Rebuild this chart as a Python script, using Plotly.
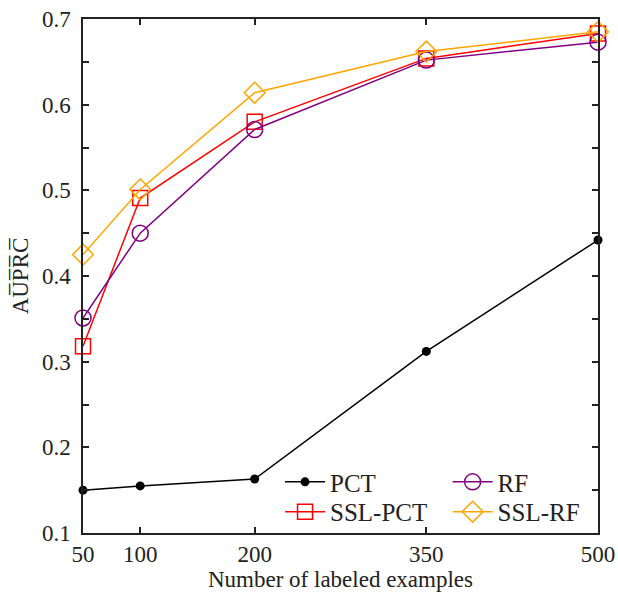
import plotly.graph_objects as go

x_vals = [50, 100, 200, 350, 500]
pct = [0.150, 0.155, 0.163, 0.312, 0.442]
rf = [0.351, 0.450, 0.571, 0.652, 0.673]
ssl_pct = [0.318, 0.491, 0.580, 0.654, 0.683]
ssl_rf = [0.425, 0.501, 0.614, 0.662, 0.685]

font_family = "Liberation Serif"

fig = go.Figure()
fig.add_trace(go.Scatter(x=x_vals, y=pct, name="PCT", mode="lines+markers",
                         line=dict(color="black", width=1.5), cliponaxis=False,
                         marker=dict(symbol="circle", size=9, color="black"),
                         legend="legend"))
fig.add_trace(go.Scatter(x=x_vals, y=ssl_pct, name="SSL-PCT", mode="lines+markers",
                         line=dict(color="#ff0000", width=1.5), cliponaxis=False,
                         marker=dict(symbol="square-open", size=15, color="#ff0000", line=dict(width=1.5)),
                         legend="legend3"))
fig.add_trace(go.Scatter(x=x_vals, y=rf, name="RF", mode="lines+markers",
                         line=dict(color="#800080", width=1.5), cliponaxis=False,
                         marker=dict(symbol="circle-open", size=16, color="#800080", line=dict(width=1.5)),
                         legend="legend2"))
fig.add_trace(go.Scatter(x=x_vals, y=ssl_rf, name="SSL-RF", mode="lines+markers",
                         line=dict(color="#ffa500", width=1.5), cliponaxis=False,
                         marker=dict(symbol="diamond-open", size=16, color="#ffa500", line=dict(width=1.5)),
                         legend="legend4"))

legend_style = dict(orientation="v", yanchor="middle", xanchor="left",
                    bgcolor="rgba(0,0,0,0)", font=dict(size=25), tracegroupgap=0,
                    itemwidth=40)
row1_y, row2_y = 0.099, 0.041
col1_x, col2_x = 0.3826, 0.708

fig.update_layout(
    width=618, height=592,
    margin=dict(l=83, r=20, t=19, b=59),
    paper_bgcolor="white", plot_bgcolor="white",
    font=dict(family=font_family, size=23, color="#222"),
    showlegend=True,
    legend=dict(x=col1_x, y=row1_y, **legend_style),
    legend2=dict(x=col2_x, y=row1_y, **legend_style),
    legend3=dict(x=col1_x, y=row2_y, **legend_style),
    legend4=dict(x=col2_x, y=row2_y, **legend_style),
)
fig.update_xaxes(range=[50, 500], tickvals=x_vals, ticktext=[str(v) for v in x_vals],
                 ticks="inside", ticklen=6, tickwidth=1.5, tickcolor="#222",
                 showline=True, linecolor="#222", linewidth=1.5, mirror="ticks",
                 showgrid=False, zeroline=False, automargin=False,
                 title=dict(text="Number of labeled examples", standoff=8, font=dict(size=23)))
fig.update_yaxes(range=[0.1, 0.7], tickvals=[0.1, 0.2, 0.3, 0.4, 0.5, 0.6, 0.7],
                 ticktext=["0.1", "0.2", "0.3", "0.4", "0.5", "0.6", "0.7"],
                 ticks="inside", ticklen=6, tickwidth=1.5, tickcolor="#222",
                 minor=dict(tickvals=[0.15, 0.25, 0.35, 0.45, 0.55, 0.65], ticks="inside",
                            ticklen=6, tickwidth=1.5, tickcolor="#222"),
                 showline=True, linecolor="#222", linewidth=1.5, mirror="ticks",
                 showgrid=False, zeroline=False, automargin=False, ticklabelstandoff=6,
                 title=dict(text="AU\u0305P\u0305R\u0305C\u0305", standoff=7, font=dict(size=23)))

fig.write_html("out.html")
